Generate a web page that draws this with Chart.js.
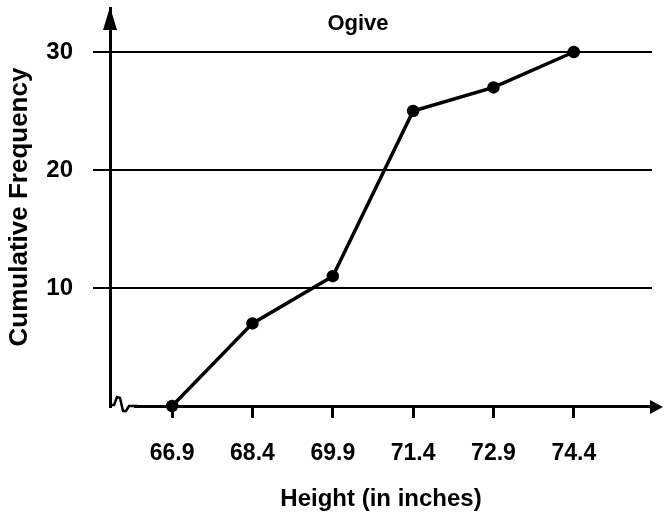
<!DOCTYPE html>
<html>
<head>
<meta charset="utf-8">
<script src="https://cdn.jsdelivr.net/npm/chart.js@4.4.1/dist/chart.umd.min.js"></script>
<style>
  body { margin: 0; background: #fff; }
  #wrap { width: 665px; height: 520px; }
</style>
</head>
<body>
<div id="wrap"><canvas id="ogive"></canvas></div>
<script>
// dados
const chartTitle = "Ogive";
const heights = [66.9, 68.4, 69.9, 71.4, 72.9, 74.4];
const cumFreq = [0, 7, 11, 25, 27, 30];
const xTicks = [66.9, 68.4, 69.9, 71.4, 72.9, 74.4];
const yTicks = [10, 20, 30];
const xTitle = "Height (in inches)";
const yTitle = "Cumulative Frequency";

const FONT = '"Liberation Sans", Arial, sans-serif';

// setas dos eixos, quebra no eixo x e título
const decor = {
  id: "decor",
  afterDraw(chart) {
    const { ctx, chartArea: a } = chart;
    ctx.save();
    ctx.fillStyle = "#000";
    ctx.strokeStyle = "#000";
    // seta do eixo y
    ctx.beginPath();
    ctx.moveTo(a.left, a.top - 1);
    ctx.lineTo(a.left - 7, a.top + 22);
    ctx.lineTo(a.left + 7, a.top + 22);
    ctx.closePath();
    ctx.fill();
    // seta do eixo x
    ctx.beginPath();
    ctx.moveTo(a.right + 11, a.bottom + 1);
    ctx.lineTo(a.right - 2, a.bottom - 6);
    ctx.lineTo(a.right - 2, a.bottom + 8);
    ctx.closePath();
    ctx.fill();
    // quebra (zigue-zague) perto da origem
    ctx.fillStyle = "#fff";
    ctx.fillRect(a.left + 2, a.bottom - 3, 22, 6);
    ctx.lineWidth = 2.5;
    ctx.beginPath();
    ctx.moveTo(a.left, a.bottom - 1);
    ctx.lineTo(a.left + 4, a.bottom - 1);
    ctx.lineTo(a.left + 7, a.bottom - 9);
    ctx.lineTo(a.left + 10, a.bottom - 8);
    ctx.lineTo(a.left + 13, a.bottom + 5);
    ctx.lineTo(a.left + 16, a.bottom + 5);
    ctx.lineTo(a.left + 19, a.bottom);
    ctx.lineTo(a.left + 28, a.bottom);
    ctx.stroke();
    // título
    ctx.fillStyle = "#000";
    ctx.font = "bold 22px " + FONT;
    ctx.textAlign = "center";
    ctx.textBaseline = "middle";
    ctx.fillText(chartTitle, 358, 24);
    ctx.restore();
  },
};

const ctxOgive = document.getElementById("ogive").getContext("2d");
new Chart(ctxOgive, {
  type: "line",
  data: {
    datasets: [
      {
        label: "Ogive",
        data: heights.map((h, i) => ({ x: h, y: cumFreq[i] })),
        borderColor: "#000",
        backgroundColor: "#000",
        borderWidth: 3.5,
        tension: 0,
        pointRadius: 4.5,
        pointHoverRadius: 4.5,
        clip: false,
      },
    ],
  },
  options: {
    responsive: true,
    maintainAspectRatio: false,
    animation: false,
    layout: { padding: { top: 8, right: 13, left: 0, bottom: 0 } },
    plugins: {
      legend: { display: false },
      tooltip: { enabled: false },
    },
    scales: {
      x: {
        type: "linear",
        min: 65.74,
        max: 75.86,
        afterBuildTicks: (s) => { s.ticks = xTicks.map((v) => ({ value: v })); },
        afterFit: (s) => { s.height = 114; s.paddingLeft = 0; s.paddingRight = 0; },
        grid: { drawOnChartArea: false, drawTicks: true, tickLength: 12, color: "#000", lineWidth: 3 },
        border: { color: "#000", width: 3 },
        ticks: {
          color: "#000",
          padding: 22,
          maxRotation: 0,
          font: { family: FONT, size: 23, weight: "bold" },
          callback: (v) => v.toFixed(1),
        },
        title: {
          display: true,
          text: xTitle,
          color: "#000",
          padding: { top: 0, bottom: 6 },
          font: { family: FONT, size: 24, weight: "bold" },
        },
      },
      y: {
        min: 0,
        max: 33.73,
        afterBuildTicks: (s) => { s.ticks = yTicks.map((v) => ({ value: v })); },
        afterFit: (s) => { s.width = 110; s.paddingTop = 0; s.paddingBottom = 0; },
        grid: { color: "#000", lineWidth: 2, tickLength: 17 },
        border: { color: "#000", width: 3 },
        ticks: {
          color: "#000",
          padding: 20,
          font: { family: FONT, size: 24, weight: "bold" },
        },
        title: {
          display: true,
          text: yTitle,
          color: "#000",
          padding: { top: 4, bottom: 0 },
          font: { family: FONT, size: 26, weight: "bold" },
        },
      },
    },
  },
  plugins: [decor],
});
</script>
</body>
</html>
